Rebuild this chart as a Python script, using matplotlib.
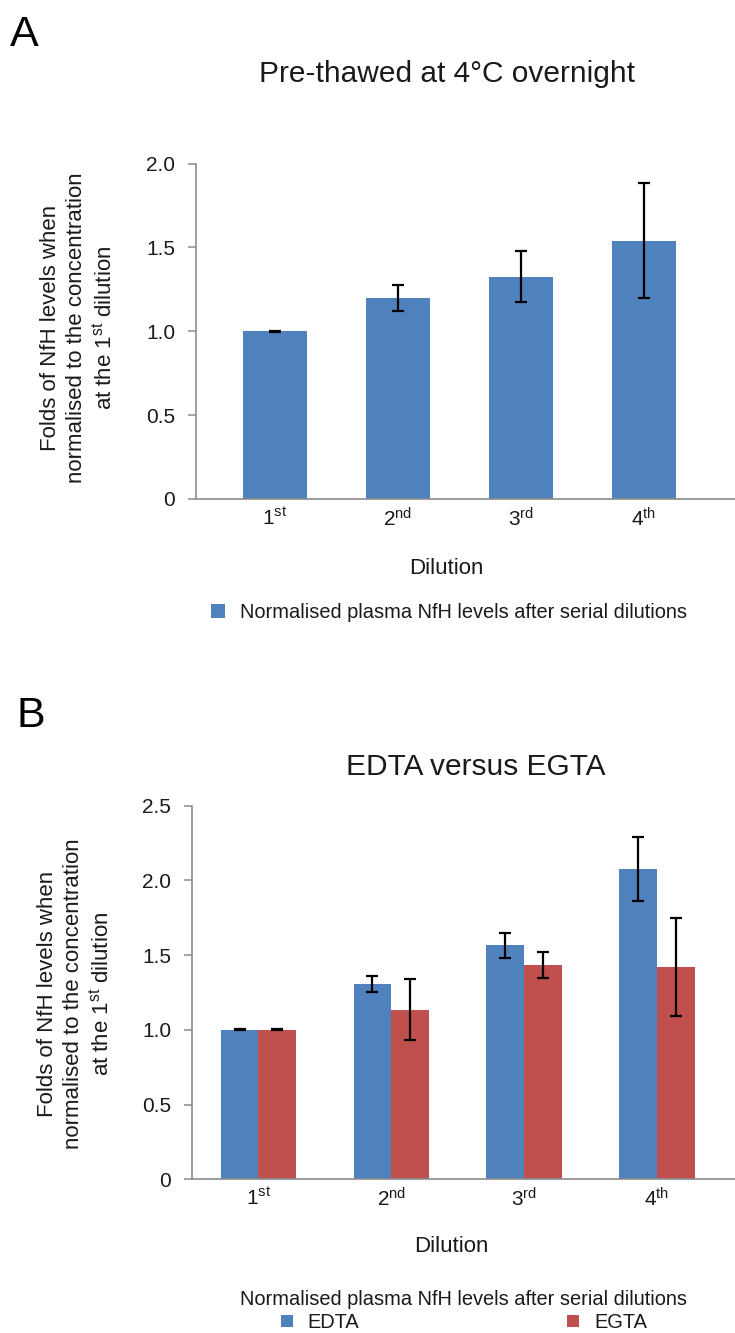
import matplotlib
matplotlib.use("Agg")
import matplotlib.pyplot as plt
from matplotlib.patches import Patch
import numpy as np

plt.rcParams['font.family'] = ['Liberation Sans', 'DejaVu Sans']
plt.rcParams['mathtext.fontset'] = 'custom'
plt.rcParams['mathtext.rm'] = 'Liberation Sans'
plt.rcParams['mathtext.it'] = 'Liberation Sans:italic'
plt.rcParams['mathtext.bf'] = 'Liberation Sans:bold'

# ---------------- data ----------------
dilutions = [r'1$^{\rm st}$', r'2$^{\rm nd}$', r'3$^{\rm rd}$', r'4$^{\rm th}$']

a_values = [1.00, 1.20, 1.325, 1.54]
a_errors = [0.004, 0.077, 0.152, 0.344]
a_yticks = [0, 0.5, 1.0, 1.5, 2.0]
a_yticklabels = ['0', '0.5', '1.0', '1.5', '2.0']

b_edta = [1.00, 1.305, 1.565, 2.075]
b_edta_err = [0.004, 0.053, 0.082, 0.213]
b_egta = [1.00, 1.135, 1.435, 1.42]
b_egta_err = [0.004, 0.205, 0.086, 0.327]
b_yticks = [0, 0.5, 1.0, 1.5, 2.0, 2.5]
b_yticklabels = ['0', '0.5', '1.0', '1.5', '2.0', '2.5']

title_a = 'Pre-thawed at 4°C overnight'
title_b = 'EDTA versus EGTA'
ylabel = 'Folds of NfH levels when\nnormalised to the concentration\nat the 1$^{\\rm st}$ dilution'
xlabel = 'Dilution'
legend_a = 'Normalised plasma NfH levels after serial dilutions'
legend_b_title = 'Normalised plasma NfH levels after serial dilutions'
series_b = ['EDTA', 'EGTA']

BLUE = '#4F81BD'
RED = '#C0504D'
GRAY = '#8C8C8C'

W, H = 735, 1333
fig = plt.figure(figsize=(W / 100, H / 100), dpi=100)


def fx(x):
    return x / W


def fy(y):
    return 1 - y / H


def style_axes(ax, yticks, yticklabels, ylim):
    for s in ['top', 'right']:
        ax.spines[s].set_visible(False)
    for s in ['left', 'bottom']:
        ax.spines[s].set_color(GRAY)
        ax.spines[s].set_linewidth(1.2)
    ax.set_ylim(*ylim)
    ax.set_yticks(yticks)
    ax.set_yticklabels(yticklabels, fontsize=15, color='#1a1a1a')
    ax.tick_params(axis='y', direction='out', length=6, width=1.1, color=GRAY, pad=9)
    ax.tick_params(axis='x', length=0, pad=6, labelsize=15, labelcolor='#1a1a1a')


# ---------------- panel A ----------------
axA = fig.add_axes([fx(196), fy(499), fx(735) - fx(196), fy(163.5) - fy(499)])
xa = np.arange(len(dilutions))
axA.bar(xa, a_values, width=0.52, color=BLUE, zorder=2)
axA.errorbar(xa, a_values, yerr=a_errors, fmt='none', ecolor='black',
             elinewidth=1.6, capsize=4.5, capthick=1.6, zorder=3)
axA.set_xlim(-0.642, 3.74)
axA.set_xticks(xa)
axA.set_xticklabels(dilutions)
style_axes(axA, a_yticks, a_yticklabels, (0, 2.0))

fig.text(fx(10), fy(46), 'A', fontsize=31, ha='left', va='baseline')
fig.text(fx(447), fy(82), title_a, fontsize=21.5, ha='center', va='baseline', color='#1a1a1a')
fig.text(fx(78.5), fy(328), ylabel, fontsize=16, rotation=90, ha='center', va='center',
         multialignment='center', linespacing=1.3, color='#1a1a1a')
fig.text(fx(446), fy(569), xlabel, fontsize=16, ha='center', va='center', color='#1a1a1a')
fig.legend(handles=[Patch(facecolor=BLUE, label=legend_a)], loc='center left',
           bbox_to_anchor=(fx(211), fy(612)), frameon=False, fontsize=14.4,
           handlelength=0.7, handleheight=0.7, handletextpad=0.75,
           borderpad=0, borderaxespad=0, labelcolor='#1a1a1a')

# ---------------- panel B ----------------
axB = fig.add_axes([fx(192), fy(1179.3), fx(735) - fx(192), fy(805.7) - fy(1179.3)])
xb = np.arange(len(dilutions))
bw = 0.284
axB.bar(xb - bw / 2, b_edta, width=bw, color=BLUE, zorder=2, label=series_b[0])
axB.bar(xb + bw / 2, b_egta, width=bw, color=RED, zorder=2, label=series_b[1])
axB.errorbar(xb - bw / 2, b_edta, yerr=b_edta_err, fmt='none', ecolor='black',
             elinewidth=1.6, capsize=4.5, capthick=1.6, zorder=3)
axB.errorbar(xb + bw / 2, b_egta, yerr=b_egta_err, fmt='none', ecolor='black',
             elinewidth=1.6, capsize=4.5, capthick=1.6, zorder=3)
axB.set_xlim(-0.50, 3.588)
axB.set_xticks(xb)
axB.set_xticklabels(dilutions)
style_axes(axB, b_yticks, b_yticklabels, (0, 2.5))

fig.text(fx(16), fy(727), 'B', fontsize=31, ha='left', va='baseline')
fig.text(fx(475.5), fy(775), title_b, fontsize=21.5, ha='center', va='baseline', color='#1a1a1a')
fig.text(fx(75.5), fy(994), ylabel, fontsize=16, rotation=90, ha='center', va='center',
         multialignment='center', linespacing=1.3, color='#1a1a1a')
fig.text(fx(451), fy(1247), xlabel, fontsize=16, ha='center', va='center', color='#1a1a1a')
legB = fig.legend(handles=[Patch(facecolor=BLUE, label=series_b[0]),
                           Patch(facecolor=RED, label=series_b[1])],
                  loc='center', bbox_to_anchor=(fx(464), fy(1311)), ncol=2,
                  frameon=False, fontsize=14.4, title=legend_b_title, title_fontsize=14.4,
                  handlelength=0.6, handleheight=0.6, handletextpad=0.75,
                  columnspacing=10.4, borderpad=0, borderaxespad=0,
                  labelspacing=0.2, labelcolor='#1a1a1a')
legB.get_title().set_color('#1a1a1a')

fig.savefig('out.png', dpi=100)
